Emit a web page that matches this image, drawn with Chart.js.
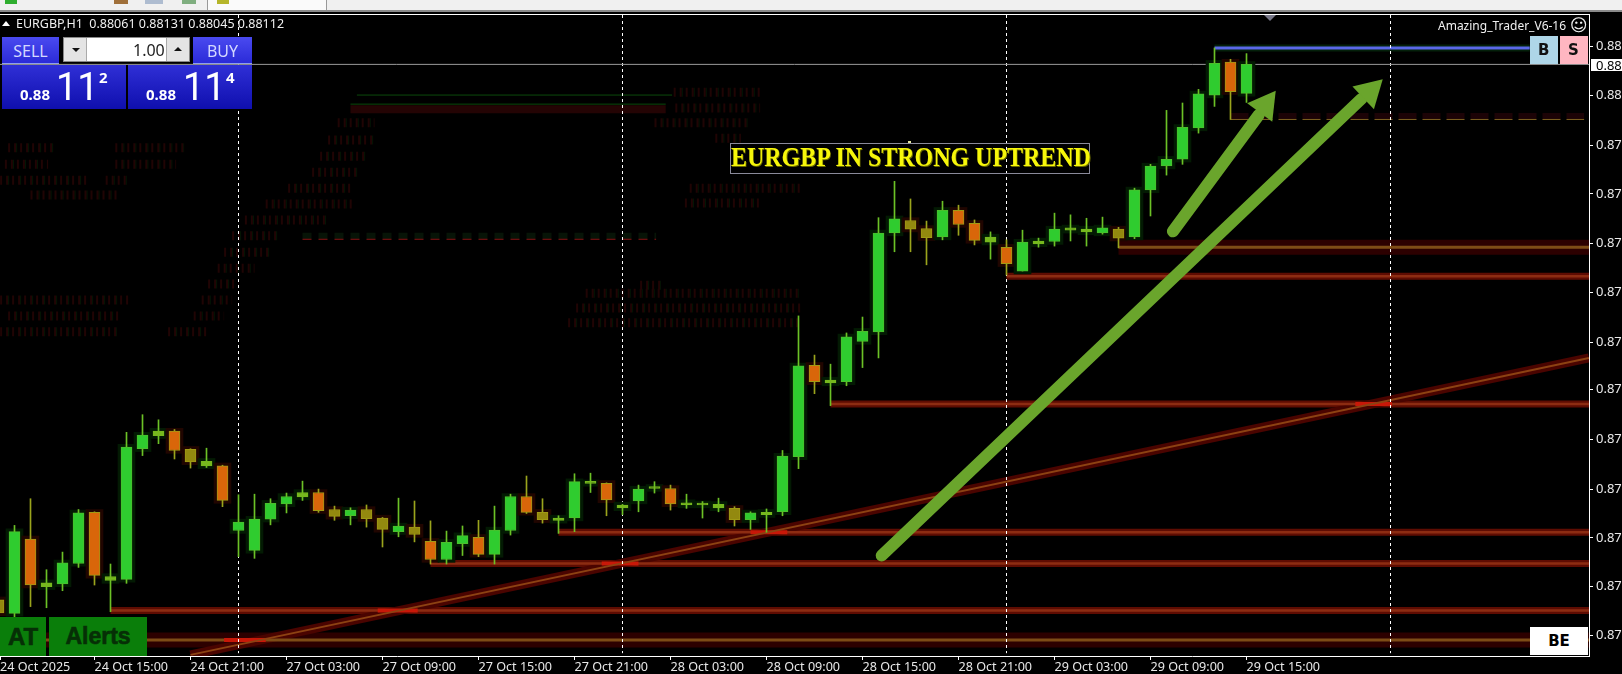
<!DOCTYPE html>
<html>
<head>
<meta charset="utf-8">
<title>EURGBP,H1</title>
<script src="https://cdn.jsdelivr.net/npm/chart.js@4"></script>
<style>
html, body { margin: 0; padding: 0; background: #000; overflow: hidden; }
#wrap { position: relative; width: 1622px; height: 674px; overflow: hidden; font-family: "Noto Sans", sans-serif; }
#wrap canvas { position: absolute; left: 0; top: 0; }
.box { position: absolute; box-sizing: border-box; white-space: nowrap; }
.btn { background: linear-gradient(#4a4af0, #2b2bd8); color: #d4d8ff; font-size: 16px; text-align: center; line-height: 28px; border-bottom: 1px solid #8f9cf0; }
.quote { background: linear-gradient(#2f2fd6, #0f0fae); color: #fff; }
.txt { position: absolute; white-space: nowrap; color: #fff; }
</style>
</head>
<body>
<div id="wrap">
  <canvas id="chart1" width="1622" height="674"></canvas>

  <!-- window chrome -->
  <div class="box" style="left:0;top:0;width:1622px;height:10px;background:#f0f0f0"></div>
  <div class="box" style="left:0;top:10px;width:1622px;height:2px;background:#8a8a8a"></div>
  <div class="box" style="left:0;top:14px;width:1590px;height:1px;background:#fff"></div>
  <div class="box" style="left:207px;top:0;width:120px;height:10px;background:#fafafa;border-left:1px solid #999;border-right:1px solid #999"></div>
  <div class="box" style="left:5px;top:0;width:12px;height:4px;background:#2fae2f"></div>
  <div class="box" style="left:114px;top:0;width:14px;height:4px;background:#a0703a"></div>
  <div class="box" style="left:145px;top:0;width:18px;height:4px;background:#aebcd0"></div>
  <div class="box" style="left:182px;top:0;width:14px;height:4px;background:#7fae7f"></div>
  <div class="box" style="left:217px;top:0;width:12px;height:4px;background:#b5b52a"></div>

  <!-- header -->
  <div class="box" style="left:2px;top:21px;width:0;height:0;border-left:4px solid transparent;border-right:4px solid transparent;border-bottom:5px solid #fff"></div>
  <div class="txt" style="left:16px;top:16px;font-size:12.5px;line-height:16px;color:#f0f0f0">EURGBP,H1&nbsp; 0.88061 0.88131 0.88045 0.88112</div>
  <div class="txt" style="left:1438px;top:18px;font-size:12px;line-height:16px;color:#f0f0f0">Amazing_Trader_V6-16</div>
  <div class="txt" style="left:1570px;top:15px;font-size:17px;line-height:20px;font-family:'DejaVu Sans';color:#f0f0f0">&#9786;</div>
  <div class="box" style="left:1264px;top:15px;width:0;height:0;border-left:6px solid transparent;border-right:6px solid transparent;border-top:6px solid #778"></div>

  <!-- one click trading panel -->
  <div class="box btn" style="left:2px;top:37px;width:57px;height:27px">SELL</div>
  <div class="box btn" style="left:193px;top:37px;width:59px;height:27px">BUY</div>
  <div class="box" style="left:63px;top:37px;width:127px;height:25px;background:#fff;border:1px solid #888"></div>
  <div class="box" style="left:64px;top:38px;width:23px;height:23px;background:#e4e4e4;border-right:1px solid #aaa"></div>
  <div class="box" style="left:166px;top:38px;width:23px;height:23px;background:#e4e4e4;border-left:1px solid #aaa"></div>
  <div class="box" style="left:72px;top:48px;width:0;height:0;border-left:4px solid transparent;border-right:4px solid transparent;border-top:4px solid #111"></div>
  <div class="box" style="left:174px;top:47px;width:0;height:0;border-left:4px solid transparent;border-right:4px solid transparent;border-bottom:4px solid #111"></div>
  <div class="txt" style="left:133px;top:40px;font-size:16px;line-height:20px;color:#222">1.00</div>
  <div class="box quote" style="left:2px;top:65px;width:124px;height:44px"></div>
  <div class="box quote" style="left:128px;top:65px;width:124px;height:44px"></div>
  <div class="txt" style="left:20px;top:84px;font-size:15px;line-height:20px;font-weight:700">0.88</div>
  <div class="txt" style="left:56px;top:66px;font-size:38px;line-height:42px;font-family:Roboto">11</div>
  <div class="txt" style="left:99px;top:68px;font-size:15px;line-height:18px;font-weight:700">2</div>
  <div class="txt" style="left:146px;top:84px;font-size:15px;line-height:20px;font-weight:700">0.88</div>
  <div class="txt" style="left:183px;top:66px;font-size:38px;line-height:42px;font-family:Roboto">11</div>
  <div class="txt" style="left:226px;top:68px;font-size:15px;line-height:18px;font-weight:700">4</div>

  <!-- chart buttons -->
  <div class="box" style="left:1530px;top:36px;width:28px;height:28px;background:#aed6e8"></div>
  <div class="box" style="left:1560px;top:36px;width:28px;height:28px;background:#ffb6c1"></div>
  <div class="txt" style="left:1538px;top:40px;font-size:15px;line-height:20px;font-weight:900;font-family:'DejaVu Sans';color:#111">B</div>
  <div class="txt" style="left:1568px;top:40px;font-size:15px;line-height:20px;font-weight:900;font-family:'DejaVu Sans';color:#111">S</div>
  <div class="box" style="left:1530px;top:627px;width:58px;height:28px;background:#fff;text-align:center;font-size:15px;line-height:28px;font-weight:900;font-family:'DejaVu Sans';color:#000">BE</div>
  <div class="box" style="left:1591px;top:59px;width:31px;height:12px;background:#fff"></div>
  <div class="txt" style="left:1596px;top:57px;font-size:13px;line-height:16px;color:#000">0.88</div>
  <div class="box" style="left:0;top:617px;width:46px;height:39px;background:#0a7e0a;text-align:center;font-size:24px;line-height:39px;font-weight:700;font-family:'Liberation Sans';color:#062f06;-webkit-text-stroke:0.6px #062f06">AT</div>
  <div class="box" style="left:49px;top:617px;width:98px;height:39px;background:#0a7e0a;text-align:center;font-size:23px;line-height:39px;font-weight:700;font-family:'Liberation Sans';color:#062f06;-webkit-text-stroke:0.6px #062f06">Alerts</div>

  <!-- annotation -->
  <div class="box" style="left:730px;top:143px;width:360px;height:31px;border:1px solid #8a8a9a"></div>
  <div class="txt" style="left:731px;top:141px;color:#f6f60a;font-family:'Liberation Serif';font-weight:700;font-size:28px;line-height:32px;transform:scaleX(0.855);transform-origin:left center;text-shadow:1px 1px 0 #6a6a00">EURGBP IN STRONG UPTREND</div>
  <div class="box" style="left:908px;top:141px;width:3px;height:2px;background:#e8e8a0"></div>
</div>

<script>
// candles, oldest first. bar 0 is 24 Oct 09:00, one bar per hour
const opens = [0.87169,0.87145,0.87276,0.87192,0.87197,0.87233,0.87323,0.87203,0.87205,0.87435,
  0.87458,0.87466,0.87434,0.87405,0.87405,0.87291,0.87256,0.87311,0.87338,0.87350,
  0.87358,0.87328,0.87317,0.87328,0.87313,0.87289,0.87297,0.87272,0.87240,0.87268,
  0.87279,0.87249,0.87291,0.87351,0.87323,0.87309,0.87313,0.87374,0.87374,0.87331,
  0.87343,0.87365,0.87365,0.87336,0.87336,0.87331,0.87330,0.87310,0.87319,0.87324,
  0.87421,0.87582,0.87551,0.87553,0.87624,0.87641,0.87815,0.87837,0.87823,0.87808,
  0.87855,0.87832,0.87799,0.87790,0.87748,0.87796,0.87800,0.87820,0.87817,0.87815,
  0.87822,0.87808,0.87891,0.87933,0.87945,0.88000,0.88058,0.88116,0.88061];
const highs = [0.87172,0.87300,0.87347,0.87222,0.87253,0.87328,0.87324,0.87232,0.87464,0.87495,
  0.87486,0.87469,0.87435,0.87436,0.87406,0.87354,0.87355,0.87347,0.87357,0.87378,
  0.87364,0.87334,0.87331,0.87336,0.87314,0.87348,0.87343,0.87308,0.87290,0.87299,
  0.87309,0.87334,0.87355,0.87387,0.87347,0.87317,0.87391,0.87392,0.87375,0.87337,
  0.87371,0.87377,0.87371,0.87355,0.87342,0.87348,0.87333,0.87324,0.87329,0.87432,
  0.87669,0.87600,0.87584,0.87639,0.87667,0.87842,0.87906,0.87875,0.87836,0.87871,
  0.87864,0.87838,0.87817,0.87803,0.87820,0.87806,0.87850,0.87847,0.87841,0.87843,
  0.87825,0.87894,0.87936,0.88031,0.88044,0.88068,0.88141,0.88121,0.88131];
const lows = [0.87142,0.87139,0.87157,0.87155,0.87185,0.87226,0.87195,0.87148,0.87198,0.87423,
  0.87444,0.87417,0.87401,0.87402,0.87333,0.87245,0.87242,0.87301,0.87322,0.87344,
  0.87323,0.87309,0.87301,0.87297,0.87262,0.87280,0.87271,0.87232,0.87232,0.87247,
  0.87245,0.87232,0.87283,0.87321,0.87304,0.87286,0.87289,0.87358,0.87317,0.87319,
  0.87324,0.87357,0.87327,0.87330,0.87313,0.87324,0.87299,0.87293,0.87288,0.87317,
  0.87400,0.87532,0.87511,0.87546,0.87578,0.87595,0.87782,0.87782,0.87759,0.87803,
  0.87811,0.87794,0.87769,0.87741,0.87748,0.87790,0.87792,0.87801,0.87792,0.87813,
  0.87789,0.87805,0.87845,0.87917,0.87936,0.87991,0.88038,0.88015,0.88045];
const closes = [0.87146,0.87289,0.87195,0.87199,0.87234,0.87322,0.87212,0.87210,0.87438,0.87459,
  0.87466,0.87432,0.87412,0.87413,0.87344,0.87306,0.87311,0.87339,0.87351,0.87358,
  0.87326,0.87316,0.87327,0.87312,0.87293,0.87299,0.87284,0.87240,0.87270,0.87282,
  0.87249,0.87292,0.87351,0.87323,0.87310,0.87313,0.87377,0.87375,0.87345,0.87336,
  0.87364,0.87367,0.87338,0.87340,0.87338,0.87337,0.87310,0.87322,0.87323,0.87422,
  0.87581,0.87553,0.87556,0.87632,0.87642,0.87815,0.87840,0.87822,0.87807,0.87855,
  0.87830,0.87802,0.87808,0.87761,0.87799,0.87801,0.87822,0.87824,0.87822,0.87824,
  0.87806,0.87891,0.87933,0.87945,0.88001,0.88060,0.88114,0.88064,0.88112];

// time axis. the first tick sits just inside the left edge
const timeBars = [0.1,6,12,18,24,30,36,42,48,54,60,66,72,78];
const timeLabels = ["24 Oct 2025","24 Oct 15:00","24 Oct 21:00","27 Oct 03:00","27 Oct 09:00","27 Oct 15:00",
  "27 Oct 21:00","28 Oct 03:00","28 Oct 09:00","28 Oct 15:00","28 Oct 21:00","29 Oct 03:00","29 Oct 09:00","29 Oct 15:00"];
const separatorBars = [15,39,63,87];

// price axis, the window cuts the labels off after two decimals
const priceTicks = [0.88144,0.88058,0.87970,0.87884,0.87797,0.87711,0.87623,0.87539,0.87452,0.87364,0.87278,0.87192,0.87106];
const priceLabels = ["0.88","0.88","0.87","0.87","0.87","0.87","0.87","0.87","0.87","0.87","0.87","0.87","0.87"];

// support levels: price and bar where they start
const levelPrices = [0.87150,0.87233,0.87288,0.87514,0.87739];
const levelStarts = [7,27,35,52,63];
const wideLevelPrices = [0.87098,0.87790];
const wideLevelStarts = [0,70];
const dashedLevelPrice = 0.88015;
const dashedLevelStart = 77;
const blueLevelPrice = 0.88141;
const blueLevelStart = 76;
const bidPrice = 0.88112;
const lastBar = 99.5;

// trendline and hand drawn arrows
const trendBars = [12,99.4];
const trendPrices = [0.87072,0.87595];
const arrowTailBars = [55.2,73.4];
const arrowTailPrices = [0.87247,0.87818];
const arrowNeckBars = [85.17,78.77];
const arrowNeckPrices = [0.88051,0.88023];
const arrowHeadBars = [85.7,79.16];
const arrowHeadPrices = [0.88064,0.88040];
const arrowHeadAngles = [46.4,36.4];

// red patches where the trendline crosses a level: price, from bar, to bar
const crossings = [[0.87098,14.1,16.7],[0.87150,23.7,26.2],[0.87233,37.7,40],[0.87288,47,49.3],[0.87514,84.8,87.1]];

// the dim leftovers of the other indicators: price, from bar, to bar
const ghostRows = [
  [0.88009,21.2,23.5],[0.87979,20.6,23.6],[0.87950,20.1,23.0],[0.87922,19.6,22.6],[0.87894,18.1,22.1],
  [0.87866,16.7,22.1],[0.87838,15.4,20.5],[0.87810,14.6,17.6],[0.87781,14.1,17.0],[0.87753,13.7,16.0],
  [0.87725,13.1,15.0],[0.87697,12.7,14.6],[0.87669,12.2,14.1],[0.87641,10.6,13.0],
  [0.87965,0.6,3.6],[0.87965,7.3,11.6],[0.87936,0.4,3.1],[0.87936,7.3,11.1],[0.87908,0.1,5.7],[0.87908,6.7,8.1],
  [0.87882,2,7.6],[0.87697,0.1,8.1],[0.87669,0.6,7.7],[0.87641,0.1,7.4],
  [0.87709,36.7,50.1],[0.87683,36.1,50.1],[0.87657,35.6,50.1],[0.87723,40.1,41.4],
  [0.88063,42.2,47.6],[0.88035,42.3,47.6],[0.88009,41,47],[0.87982,44.8,46.4],[0.87894,43.2,50.1],[0.87868,42.9,47.6]
];
const ghostLines = [[0.88058,22.4,42.1],[0.88042,22,41.7]];
const ghostBandPrice = 0.88033;
const ghostBandBars = [22,41.7];
const ghostDashPrice = 0.87804;
const ghostDashBars = [19,41.1];

const bars = opens.map((v, i) => i);
const isUp = opens.map((v, i) => closes[i] >= v);
const bodySize = opens.map((v, i) => Math.abs(closes[i] - v));

function bodyFill(i){
  if(isUp[i]) return bodySize[i] < 0.00009 ? '#76b81e' : '#2fcc2f';
  return bodySize[i] < 0.00023 ? '#93890f' : '#d9660a';
}
function bodyEdge(i){
  if(isUp[i]) return bodySize[i] < 0.00009 ? '#76b81e' : '#4cbf2c';
  return '#a09a14';
}

// segments broken up with null points, a line dataset then leaves gaps
function segments(rows){
  let out = [];
  rows.forEach(r => {
    out.push({x: r[1], y: r[0]});
    out.push({x: r[2], y: r[0]});
    out.push({x: r[2], y: null});
  });
  return out;
}
function lineSet(label, rows, color, width, order, extra){
  return Object.assign({
    type: 'line',
    label: label,
    data: segments(rows),
    borderColor: color,
    borderWidth: width,
    pointRadius: 0,
    spanGaps: false,
    tension: 0,
    order: order
  }, extra || {});
}

const levels = levelPrices.map((p, i) => [p, levelStarts[i], lastBar]);
const wideLevels = wideLevelPrices.map((p, i) => [p, wideLevelStarts[i], lastBar]);
const dashedLevel = [[dashedLevelPrice, dashedLevelStart, 99.1]];
const blueLevel = [[blueLevelPrice, blueLevelStart, 95.7]];

const trendPoints = trendBars.map((b, i) => ({x: b, y: trendPrices[i]}));
let shaftPoints = [];
arrowTailBars.forEach((b, i) => {
  shaftPoints.push({x: b, y: arrowTailPrices[i]});
  shaftPoints.push({x: arrowNeckBars[i], y: arrowNeckPrices[i]});
  shaftPoints.push({x: arrowNeckBars[i], y: null});
});
let sepPoints = [];
separatorBars.forEach(b => {
  sepPoints.push({x: b, y: 0.88199});
  sepPoints.push({x: b, y: 0.87075});
  sepPoints.push({x: b, y: null});
});

const config = {
  type: 'bar',
  data: {
    datasets: [
      {
        type: 'line', label: 'arrow heads',
        data: arrowHeadBars.map((b, i) => ({x: b, y: arrowHeadPrices[i]})),
        showLine: false,
        pointStyle: 'triangle',
        pointRadius: 18,
        pointRotation: arrowHeadAngles,
        pointBackgroundColor: '#6aa52c',
        pointBorderWidth: 0,
        order: 0
      },
      {
        type: 'line', label: 'arrows',
        data: shaftPoints,
        borderColor: '#6aa52c',
        borderWidth: 12,
        borderCapStyle: 'round',
        pointRadius: 0,
        spanGaps: false,
        order: 0
      },
      {
        label: 'bodies',
        data: bars.map(i => ({x: i, y: [opens[i], closes[i]]})),
        backgroundColor: bars.map(bodyFill),
        borderColor: bars.map(bodyEdge),
        borderWidth: 1,
        borderSkipped: false,
        barThickness: 11,
        minBarLength: 2,
        grouped: false,
        order: 2
      },
      {
        label: 'wicks',
        data: bars.map(i => ({x: i, y: [lows[i], highs[i]]})),
        backgroundColor: bars.map(i => isUp[i] ? '#6cc126' : '#9aa41c'),
        barThickness: 1,
        grouped: false,
        order: 3
      },
      {
        label: 'halo',
        data: bars.map(i => ({x: i, y: [Math.min(opens[i], closes[i]) - 0.00005, Math.max(opens[i], closes[i]) + 0.00005]})),
        backgroundColor: bars.map(i => isUp[i] ? '#031a03' : '#200500'),
        barThickness: 17,
        grouped: false,
        order: 4
      },
      lineSet('bid', [[bidPrice, 0, lastBar]], '#9a9a9a', 1, 5),
      {
        type: 'line', label: 'period separators',
        data: sepPoints,
        borderColor: '#ffffff',
        borderWidth: 1,
        borderDash: [3, 3],
        pointRadius: 0,
        spanGaps: false,
        order: 6
      },
      lineSet('blue level', blueLevel, '#5a68e8', 3, 7),
      lineSet('blue glow', blueLevel, '#04200a', 7, 8),
      lineSet('dashed level', dashedLevel, '#7f6220', 1, 7, {borderDash: [18, 6]}),
      lineSet('dashed glow', dashedLevel.map(r => [r[0] + 0.00006, r[1], r[2]]), '#1c0306', 6, 8, {borderDash: [18, 6]}),
      {
        type: 'line', label: 'trendline',
        data: trendPoints,
        borderColor: '#8c4212',
        borderWidth: 2,
        pointRadius: 0,
        order: 7
      },
      lineSet('crossings', crossings, '#c81808', 4, 7.5),
      {
        type: 'line', label: 'trendline glow',
        data: trendPoints,
        borderColor: '#4a0400',
        borderWidth: 9,
        pointRadius: 0,
        order: 9
      },
      lineSet('levels', levels, '#8c2c12', 2.5, 8),
      lineSet('levels glow', levels, '#5e0c02', 7, 10),
      lineSet('wide levels', wideLevels, '#7d4c16', 3, 8),
      lineSet('wide levels glow', wideLevels, '#2c0000', 15, 10),
      lineSet('ghost lines', ghostLines, '#0b4a0b', 1, 11),
      lineSet('ghost band', [[ghostBandPrice, ghostBandBars[0], ghostBandBars[1]]], '#240404', 8, 12),
      lineSet('ghost dash', [[ghostDashPrice, ghostDashBars[0], ghostDashBars[1]]], '#8c1414', 1, 11, {borderDash: [9, 7]}),
      lineSet('ghost dash glow', [[ghostDashPrice + 0.00006, ghostDashBars[0], ghostDashBars[1]]], '#071407', 6, 12, {borderDash: [9, 7]}),
      lineSet('ghost red', ghostRows, '#200404', 9, 13, {borderDash: [2, 4]}),
      lineSet('ghost green', ghostRows, '#041805', 9, 14, {borderDash: [1, 11], borderDashOffset: 4})
    ]
  },
  options: {
    responsive: false,
    animation: false,
    events: [],
    layout: { padding: { top: 15, left: 0, right: 0, bottom: 0 }, autoPadding: false },
    plugins: { legend: { display: false }, tooltip: { enabled: false } },
    scales: {
      x: {
        type: 'linear',
        offset: false,
        min: 0.09375,
        max: 99.40625,
        afterBuildTicks: function(scale){ scale.ticks = timeBars.map(v => ({value: v})); },
        afterFit: function(scale){ scale.height = 18; },
        grid: { display: true, drawOnChartArea: false, offset: false, color: '#ffffff', tickLength: 4 },
        border: { color: '#ffffff', width: 1 },
        ticks: {
          autoSkip: false,
          maxRotation: 0,
          align: 'start',
          padding: 0,
          color: '#e8e8e8',
          font: { family: 'Noto Sans', size: 12.6 },
          callback: function(value, index){ return timeLabels[index]; }
        }
      },
      y: {
        type: 'linear',
        position: 'right',
        min: 0.87070,
        max: 0.88199,
        afterBuildTicks: function(scale){ scale.ticks = priceTicks.map(v => ({value: v})); },
        afterFit: function(scale){ scale.width = 33; },
        grid: { display: true, drawOnChartArea: false, color: '#ffffff', tickLength: 4 },
        border: { color: '#ffffff', width: 1 },
        ticks: {
          autoSkip: false,
          padding: 3,
          color: '#e8e8e8',
          font: { family: 'Noto Sans', size: 13 },
          callback: function(value, index){ return priceLabels[index]; }
        }
      }
    }
  },
  plugins: [{
    id: 'blackBackground',
    beforeDraw: function(chart){
      chart.ctx.save();
      chart.ctx.fillStyle = '#000000';
      chart.ctx.fillRect(0, 0, chart.width, chart.height);
      chart.ctx.restore();
    }
  }]
};

var chart = new Chart(document.getElementById('chart1'), config);
</script>
</body>
</html>
